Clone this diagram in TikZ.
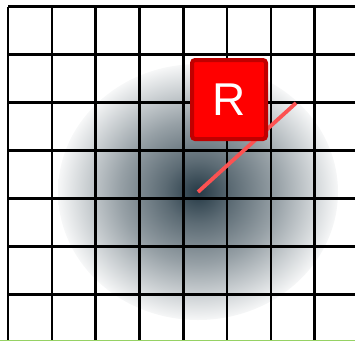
\documentclass[tikz,border=0pt]{standalone}
\usepackage{fontspec}
\setsansfont{Liberation Sans}
\usetikzlibrary{positioning}
\definecolor{figRojo}{RGB}{255,0,0}
\definecolor{figRojoBorde}{RGB}{192,0,0}
\definecolor{figLinea}{RGB}{252,82,82}
\definecolor{figSombra}{RGB}{38,58,70}
\definecolor{figVerde}{RGB}{150,210,100}
\pgfdeclareradialshading{sombra}{\pgfpoint{0bp}{0bp}}{%
  color(0bp)=(figSombra); color(6bp)=(figSombra!75!white);
  color(14bp)=(figSombra!48!white); color(21bp)=(figSombra!20!white);
  color(25bp)=(figSombra!4!white); color(26bp)=(white); color(50bp)=(white)}
\tikzset{
  rejilla/.style={line width=2.6pt, draw=black},
  robot/.style={
    rectangle, rounded corners=3pt, draw=figRojoBorde, line width=4pt,
    fill=figRojo, minimum width=74pt, minimum height=79pt, inner sep=0pt,
    text=white, font=\sffamily\fontsize{46}{46}\selectfont
  },
  rayo/.style={line width=3.8pt, draw=figLinea},
  borde/.style={line width=1pt, draw=figVerde}
}

\begin{document}
\begin{tikzpicture}[x=1pt, y=-1pt]
  \useasboundingbox (0,0) rectangle (355,341);

  % sombra bajo la rejilla
  \coordinate (centro) at (198,192);
  \shade[shading=sombra] (centro) ellipse [x radius=140, y radius=128];

  % rejilla
  \foreach \i in {0,...,7}
    \draw[rejilla] (8+43.8*\i,6.5) -- (8+43.8*\i,341);
  \foreach \j in {0,...,6}
    \draw[rejilla] (8,6.5+48*\j) -- (355,6.5+48*\j);

  \draw[borde] (0,340.5) -- (355,340.5);

  % direccion y robot
  \coordinate (punta) at (296,103);
  \draw[rayo] (centro) -- (punta);
  \node[robot] (R) at (229,99.5) {R};
\end{tikzpicture}
\end{document}
